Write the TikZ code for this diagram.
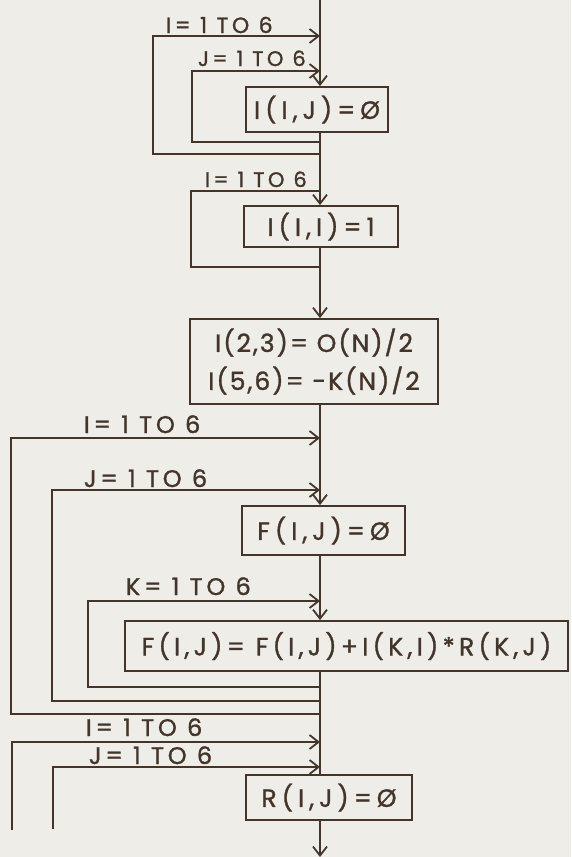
\documentclass[tikz,border=0pt]{standalone}
\usepackage{fontspec}
\setmainfont{Poppins}[FakeBold=1.2]
\usetikzlibrary{arrows.meta, positioning}
\definecolor{ink}{RGB}{66,54,44}
\definecolor{paper}{RGB}{238,237,231}

\begin{document}
\begin{tikzpicture}[
    x=1pt, y=-1pt, color=ink, line width=1.8pt,
    >={Straight Barb[length=9pt, width=14pt]},
    box/.style={draw, minimum height=45pt, inner sep=0pt, font=\fontsize{25}{38}\selectfont\addfontfeatures{LetterSpace=20}},
    lbl/.style={anchor=base west, inner sep=0pt},
]
    \fill[paper] (0,0) rectangle (571,857);
    \useasboundingbox (0,0) rectangle (571,857);
    \coordinate (top) at (320,0);
    \coordinate (end) at (320,857);

    \node[box, minimum width=142pt] (b1) at (317,109.5) {I(I,J)=Ø};
    \node[box, minimum width=154pt, minimum height=41pt] (b2) at (321,226.5) {I(I,I)=1};
    \node[box, minimum width=248pt, minimum height=85pt, align=center,
          font=\fontsize{25}{38}\selectfont\addfontfeatures{LetterSpace=8}] (b3) at (314,361.5) {I(2,3)= O(N)/2\\I(5,6)= -K(N)/2};
    \node[box, minimum width=163pt, minimum height=49pt] (b4) at (323.5,530.5) {F(I,J)=Ø};
    \node[box, minimum width=443pt, minimum height=50pt,
          font=\fontsize{25}{38}\selectfont\addfontfeatures{LetterSpace=17}] (b5) at (346.5,646) {F(I,J)= F(I,J)+I(K,I)*R(K,J)};
    \node[box, minimum width=166pt] (b6) at (329,797.5) {R(I,J)=Ø};

    \draw[->] (top) -- (b1.north -| top);
    \draw[->] (b1.south -| top) -- (b2.north -| top);
    \draw[->] (b2.south -| top) -- (b3.north -| top);
    \draw[->] (b3.south -| top) -- (b4.north -| top);
    \draw[->] (b4.south -| top) -- (b5.north -| top);
    \draw (b5.south -| top) -- (b6.north -| top);
    \draw[->] (b6.south -| top) -- (end);

    \foreach \l/\t/\b in {153/36/154, 192/71/142, 11/438/714, 52/490/701, 88/601/687}
        \draw[->] (320,\b) -| (\l,\t) -- (320,\t);
    \draw (320,267) -| (191,191) -- (320,191);
    \draw[->] (12,830) |- (320,742);
    \draw[->] (53,829) |- (320,767);

    \foreach \x/\y/\v/\s [count=\i] in {165/33/I/22, 197/66/J/21, 204/187/I/21, 83/433/I/24,
                                       83/487/J/24, 125/595/K/24, 85/736/I/24, 88/764/J/24}
        \node[lbl, font=\fontsize{\s}{\s}\selectfont\addfontfeatures{LetterSpace=16}] (n\i) at (\x,\y) {\v= 1 TO 6};
\end{tikzpicture}
\end{document}
